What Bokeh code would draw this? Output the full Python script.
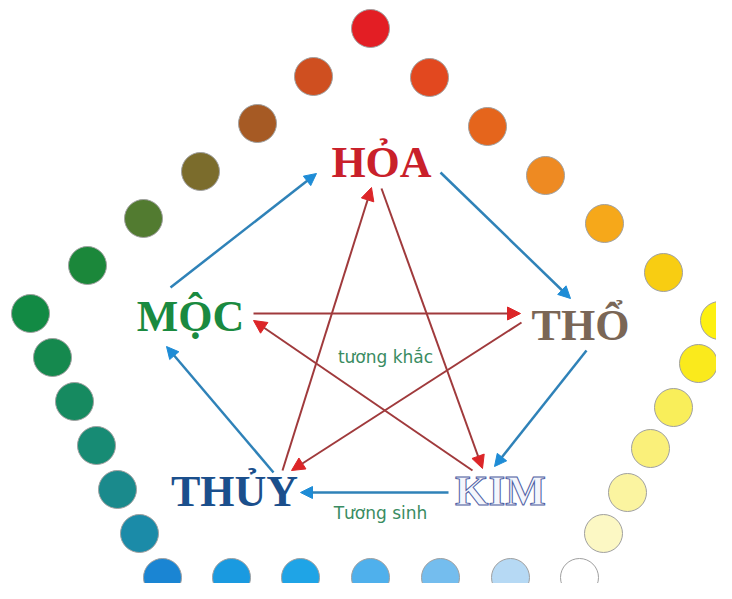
from bokeh.plotting import figure
from bokeh.models import Range1d, Arrow, NormalHead, ColumnDataSource
from bokeh.core.properties import value
from bokeh.embed import file_html
from bokeh.resources import INLINE

# ---- data ----
dot_x = [370, 429, 487, 545, 604, 663, 719, 698, 673, 650, 627, 603, 579,
         510, 440, 370, 300, 231, 162, 139, 117, 96, 74, 52, 30, 87, 143, 200, 257, 313]
dot_y = [28, 77, 126, 175, 223, 272, 320, 363, 407, 448, 492, 533, 577,
         577, 577, 577, 577, 577, 577, 533, 489, 445, 401, 357, 313, 265, 218, 171, 123, 76]
dot_colors = ["#e31e24", "#e2481f", "#e5651c", "#ee8a22", "#f6a81a", "#f8cd12", "#fdf011",
              "#faea1c", "#f9ee5a", "#faf07a", "#fbf4a0", "#fcf8c4", "#ffffff",
              "#b6d9f4", "#74bdee", "#4fb0ec", "#1fa4e6", "#1a9ae0", "#1a85d3",
              "#1b8ba8", "#1a8a8c", "#178b74", "#168a60", "#15894e", "#128a44",
              "#1b873a", "#527b30", "#7b6c2c", "#a65a24", "#cf4f20"]

elements = ["HỎA", "MỘC", "THỔ", "THỦY"]
elem_x = [381, 190, 580, 234]
elem_y = [162, 316, 325, 491]
elem_colors = ["#c9202a", "#1a8a40", "#7a6656", "#1b4f8c"]

kim_label = ["KIM"]
kim_x = [500]
kim_y = [490]

# generating cycle (tương sinh) arrows
sinh_x0 = [440, 586, 448, 273, 170]
sinh_y0 = [172, 350, 492, 472, 287]
sinh_x1 = [570, 494, 300, 166, 316]
sinh_y1 = [298, 466, 492, 346, 173]

# overcoming cycle (tương khắc) arrows
khac_x0 = [253, 521, 282, 381, 472]
khac_y0 = [313, 322, 470, 188, 470]
khac_x1 = [520, 291, 371, 482, 253]
khac_y1 = [313, 470, 187, 468, 320]

notes = ["tương khắc", "Tương sinh"]
note_x = [385, 380]
note_y = [356, 512]

# ---- figure ----
p = figure(width=716, height=583, output_backend="svg", toolbar_location=None,
           x_range=Range1d(0, 716), y_range=Range1d(583, 0),
           min_border=0, background_fill_color="white", border_fill_color="white")
p.axis.visible = False
p.grid.visible = False
p.outline_line_color = None

p.circle(x=dot_x, y=dot_y, radius=19, fill_color=dot_colors,
         line_color="#a0a0a0", line_width=1)

khac_src = ColumnDataSource(dict(x0=khac_x0, y0=khac_y0, x1=khac_x1, y1=khac_y1))
p.add_layout(Arrow(source=khac_src, x_start="x0", y_start="y0", x_end="x1", y_end="y1",
                   line_color="#a03a3c", line_width=2,
                   end=NormalHead(size=13, fill_color="#dc2528", line_color="#dc2528")))

sinh_src = ColumnDataSource(dict(x0=sinh_x0, y0=sinh_y0, x1=sinh_x1, y1=sinh_y1))
p.add_layout(Arrow(source=sinh_src, x_start="x0", y_start="y0", x_end="x1", y_end="y1",
                   line_color="#2f82b8", line_width=2.5,
                   end=NormalHead(size=12, fill_color="#1e8cd6", line_color="#1e8cd6")))

p.text(x=elem_x, y=elem_y, text=elements, text_color=elem_colors,
       text_font=value("Liberation Serif"), text_font_style="bold",
       text_font_size="44px", text_align="center", text_baseline="alphabetic")

p.text(x=kim_x, y=kim_y, text=kim_label, text_color="#f4f6fc",
       text_outline_color="#4e5ea4",
       text_font=value("Liberation Serif"), text_font_style="bold",
       text_font_size="43px", text_align="center", text_baseline="alphabetic")

p.text(x=note_x, y=note_y, text=notes, text_color="#3a8c62",
       text_font=value("DejaVu Sans"), text_font_size="17px",
       text_align="center", text_baseline="middle")

open("out.html", "w").write(file_html(p, INLINE))
